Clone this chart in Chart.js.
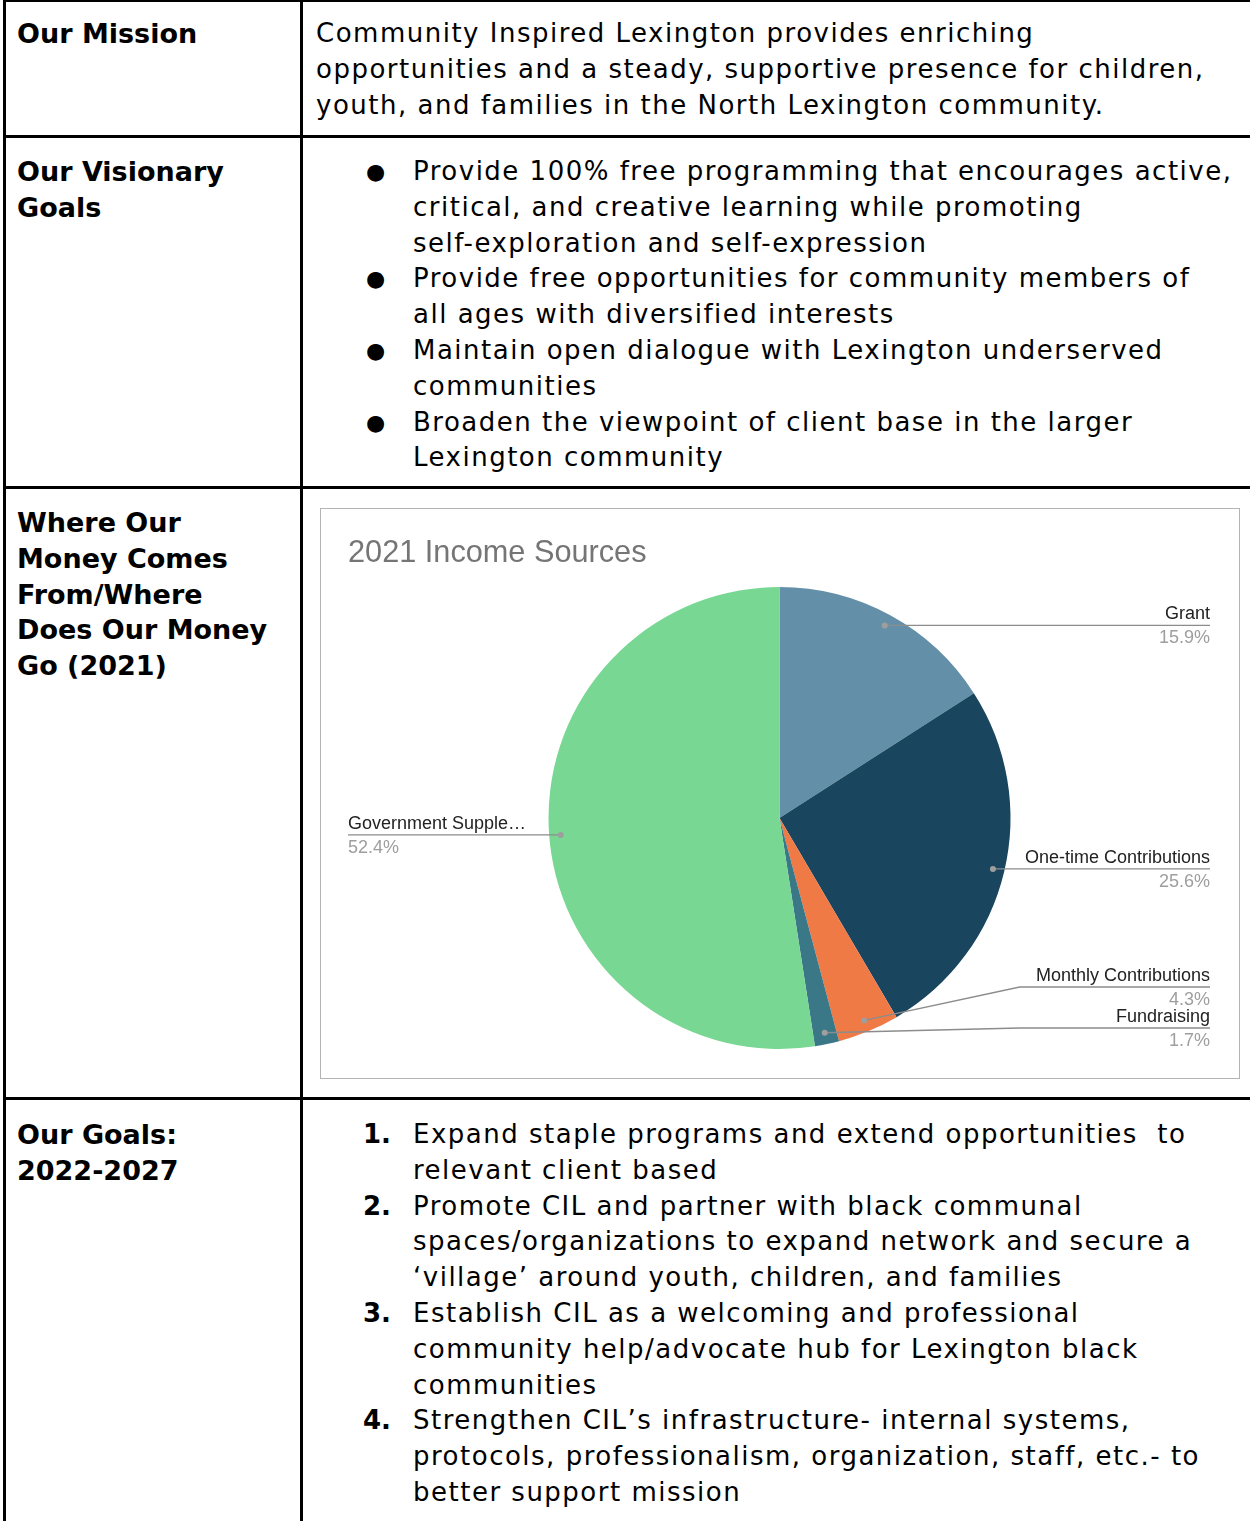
<!DOCTYPE html>
<html>
<head>
<meta charset="utf-8">
<script src="https://cdn.jsdelivr.net/npm/chart.js@4"></script>
<style>
  html, body { margin:0; padding:0; background:#fff; }
  body { width:1250px; height:1521px; position:relative; overflow:hidden; }
  .hl { position:absolute; background:#000; height:3px; left:3px; right:0; }
  .vl { position:absolute; background:#000; width:3px; top:0; bottom:0; }
  .txt { position:absolute; font-family:"DejaVu Sans", sans-serif; font-size:26px; line-height:35.8px; color:#000; white-space:pre; letter-spacing:1.5px; }
  .hd { position:absolute; left:17px; font-family:"DejaVu Sans", sans-serif; font-weight:bold; font-size:27px; line-height:35.8px; color:#000; white-space:pre; }
  .item { position:relative; padding-left:0; }
  .mark { position:absolute; }
  .bul { left:-47px; letter-spacing:0; font-size:22px; }
  .num { left:-50px; font-weight:bold; letter-spacing:0; }
  #box { position:absolute; left:320px; top:508px; width:918px; height:569px; border:1.5px solid #b4b4b4; }
  #chart { position:absolute; left:-1.5px; top:-0.5px; }
</style>
</head>
<body>
<div class="hl" style="top:0;height:2px"></div>
<div class="hl" style="top:134.5px"></div>
<div class="hl" style="top:486px"></div>
<div class="hl" style="top:1096.5px"></div>
<div class="vl" style="left:3px"></div>
<div class="vl" style="left:300px"></div>

<div class="hd" style="top:16px">Our Mission</div>
<div class="hd" style="top:154px">Our Visionary
Goals</div>
<div class="hd" style="top:505px">Where Our
Money Comes
From/Where
Does Our Money
Go (2021)</div>
<div class="hd" style="top:1117px">Our Goals:
2022-2027</div>

<div class="txt" style="left:316px;top:16px">Community Inspired Lexington provides enriching
opportunities and a steady, supportive presence for children,
youth, and families in the North Lexington community.</div>

<div class="txt" style="left:413px;top:154px"><div class="item"><span class="mark bul">●</span>Provide 100% free programming that encourages active,
critical, and creative learning while promoting
self-exploration and self-expression</div><div class="item"><span class="mark bul">●</span>Provide free opportunities for community members of
all ages with diversified interests</div><div class="item"><span class="mark bul">●</span>Maintain open dialogue with Lexington underserved
communities</div><div class="item"><span class="mark bul">●</span>Broaden the viewpoint of client base in the larger
Lexington community</div></div>

<div class="txt" style="left:413px;top:1117px"><div class="item"><span class="mark num">1.</span>Expand staple programs and extend opportunities  to
relevant client based</div><div class="item"><span class="mark num">2.</span>Promote CIL and partner with black communal
spaces/organizations to expand network and secure a
‘village’ around youth, children, and families</div><div class="item"><span class="mark num">3.</span>Establish CIL as a welcoming and professional
community help/advocate hub for Lexington black
communities</div><div class="item"><span class="mark num">4.</span>Strengthen CIL’s infrastructure- internal systems,
protocols, professionalism, organization, staff, etc.- to
better support mission</div></div>

<div id="box"><canvas id="chart" width="919" height="569"></canvas></div>

<script>
const chartTitle = '2021 Income Sources';
const categories = ['Grant', 'One-time Contributions', 'Monthly Contributions', 'Fundraising', 'Government Supple…'];
const shares = [15.9, 25.6, 4.3, 1.7, 52.4];
const sliceColors = ['#6390a8', '#1a455e', '#ef7a45', '#3b7887', '#78d792'];

const leaderLabels = {
  id: 'leaderLabels',
  afterDatasetsDraw(chart) {
    const ctx = chart.ctx;
    const meta = chart.getDatasetMeta(0);
    const area = chart.chartArea;
    const items = meta.data.map((arc, i) => {
      const p = arc.getProps(['x', 'y', 'startAngle', 'endAngle', 'outerRadius'], true);
      const mid = (p.startAngle + p.endAngle) / 2;
      const ax = p.x + Math.cos(mid) * p.outerRadius * 0.95;
      const ay = p.y + Math.sin(mid) * p.outerRadius * 0.95;
      return { i, ax, ay, right: Math.cos(mid) >= 0, cx: p.x, r: p.outerRadius, ly: ay };
    });
    // resolve overlaps on each side from the bottom up
    const gap = 41, maxY = chart.height - 50;
    [true, false].forEach(side => {
      const list = items.filter(it => it.right === side).sort((a, b) => b.ay - a.ay);
      let limit = maxY;
      list.forEach(it => { it.ly = Math.min(it.ay, limit); limit = it.ly - gap; });
    });
    ctx.save();
    items.forEach(it => {
      const textX = it.right ? area.right - 1 : area.left;
      const elbowX = it.cx + (it.right ? 1 : -1) * it.r * 1.04;
      ctx.strokeStyle = '#8c8c8c';
      ctx.lineWidth = 1.3;
      ctx.beginPath();
      ctx.moveTo(it.ax, it.ay);
      if (Math.abs(it.ly - it.ay) > 1) ctx.lineTo(elbowX, it.ly);
      ctx.lineTo(textX, it.ly);
      ctx.stroke();
      ctx.fillStyle = '#9e9e9e';
      ctx.beginPath();
      ctx.arc(it.ax, it.ay, 3, 0, Math.PI * 2);
      ctx.fill();
      ctx.textAlign = it.right ? 'right' : 'left';
      ctx.textBaseline = 'alphabetic';
      ctx.font = '18px "Liberation Sans", Arial, sans-serif';
      ctx.fillStyle = '#222';
      ctx.fillText(categories[it.i], textX, it.ly - 6);
      ctx.fillStyle = '#9e9e9e';
      ctx.fillText(shares[it.i].toFixed(1) + '%', textX, it.ly + 18);
    });
    ctx.restore();
  }
};

new Chart(document.getElementById('chart'), {
  type: 'pie',
  data: {
    labels: categories,
    datasets: [{ data: shares, backgroundColor: sliceColors, borderWidth: 0 }]
  },
  options: {
    responsive: false,
    animation: false,
    devicePixelRatio: 1,
    layout: { padding: { left: 28, right: 28, top: 0, bottom: 29 } },
    plugins: {
      legend: { display: false },
      tooltip: { enabled: false },
      title: {
        display: true,
        text: chartTitle,
        align: 'start',
        color: '#757575',
        font: { family: '"Liberation Sans", Arial, sans-serif', size: 30.7, weight: 'normal' },
        padding: { top: 26, bottom: 15.2 }
      }
    }
  },
  plugins: [leaderLabels]
});
</script>
</body>
</html>
